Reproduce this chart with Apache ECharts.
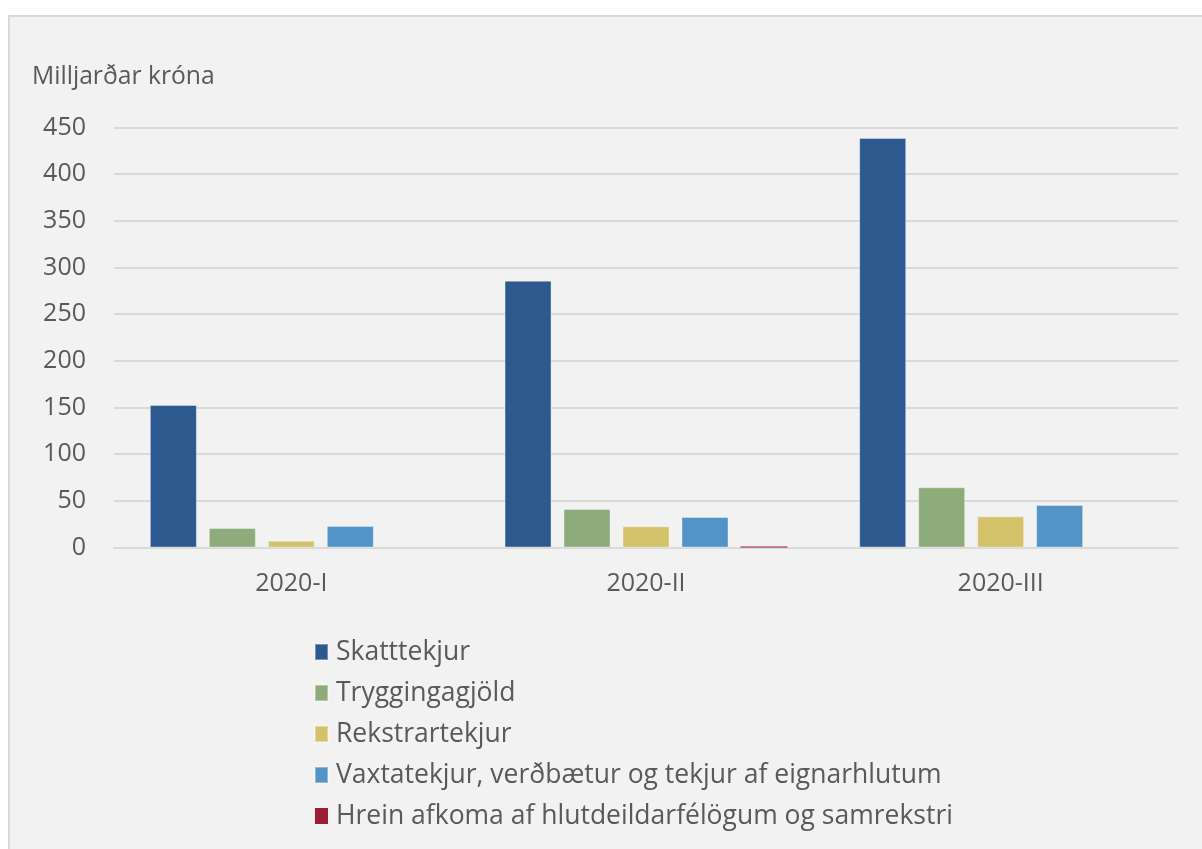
<!DOCTYPE html>
<html>
<head>
<meta charset="utf-8">
<script src="https://cdn.jsdelivr.net/npm/echarts@6/dist/echarts.min.js"></script>
<style>
  html, body { margin: 0; padding: 0; background: #ffffff; width: 1202px; height: 849px; overflow: hidden; }
  #panel { position: absolute; left: 8px; top: 15px; width: 1220px; height: 860px; background: #f2f2f2; border-left: 2px solid #d9d9d9; border-top: 2px solid #d9d9d9; }
  #chart { position: absolute; left: 0; top: 0; width: 1202px; height: 849px; }
</style>
</head>
<body>
<div id="panel"></div>
<div id="chart"></div>
<script>
const categories = ['2020-I', '2020-II', '2020-III'];
const seriesNames = [
  'Skatttekjur',
  'Tryggingagjöld',
  'Rekstrartekjur',
  'Vaxtatekjur, verðbætur og tekjur af eignarhlutum',
  'Hrein afkoma af hlutdeildarfélögum og samrekstri'
];
const skatttekjur = [152.7, 285.9, 438.8];
const tryggingagjold = [20.9, 41.2, 64.5];
const rekstrartekjur = [7.3, 22.7, 33.4];
const vaxtatekjur = [23.0, 32.7, 45.5];
const hreinAfkoma = [0, 1.2, 0];
const seriesValues = [skatttekjur, tryggingagjold, rekstrartekjur, vaxtatekjur, hreinAfkoma];
const colors = ['#2c5a8f', '#8eab7c', '#d4c26b', '#5294c5', '#9b1c35'];
const yMin = 0, yMax = 450, yStep = 50;
const yTitle = 'Milljarðar króna';

const font = '"Open Sans", "Noto Sans", sans-serif';
const textColor = '#595959';

const chart = echarts.init(document.getElementById('chart'), null, { renderer: 'canvas' });
chart.setOption({
  backgroundColor: 'transparent',
  animation: false,
  color: colors,
  title: {
    text: yTitle,
    left: 27,
    top: 59,
    textStyle: { fontFamily: font, fontSize: 24.7, fontWeight: 'normal', color: textColor }
  },
  grid: { left: 114, right: 24, top: 127.5, bottom: 301.5, containLabel: false },
  xAxis: {
    type: 'category',
    data: categories,
    axisLine: { show: true, lineStyle: { color: '#d9d9d9', width: 2 } },
    axisTick: { show: false },
    axisLabel: { fontFamily: font, fontSize: 25, color: textColor, margin: 24 }
  },
  yAxis: {
    type: 'value',
    min: yMin, max: yMax, interval: yStep,
    axisLine: { show: false },
    axisTick: { show: false },
    axisLabel: { fontFamily: font, fontSize: 25, color: textColor, margin: 28 },
    splitLine: { show: true, lineStyle: { color: '#d9d9d9', width: 2 } }
  },
  legend: {
    orient: 'vertical',
    left: 309,
    top: 632,
    itemWidth: 13,
    itemHeight: 16,
    itemGap: 11,
    icon: 'rect',
    textStyle: { fontFamily: font, fontSize: 26.5, color: textColor, lineHeight: 30, padding: [0, 0, 0, 3] },
    data: seriesNames
  },
  series: seriesNames.map((name, i) => ({
    name: name,
    type: 'bar',
    data: seriesValues[i],
    barWidth: 47,
    barGap: '25.5%',
    itemStyle: { color: colors[i], borderColor: 'rgba(255,255,255,0.35)', borderWidth: i === 4 ? 0 : 1 }
  }))
});
</script>
</body>
</html>
